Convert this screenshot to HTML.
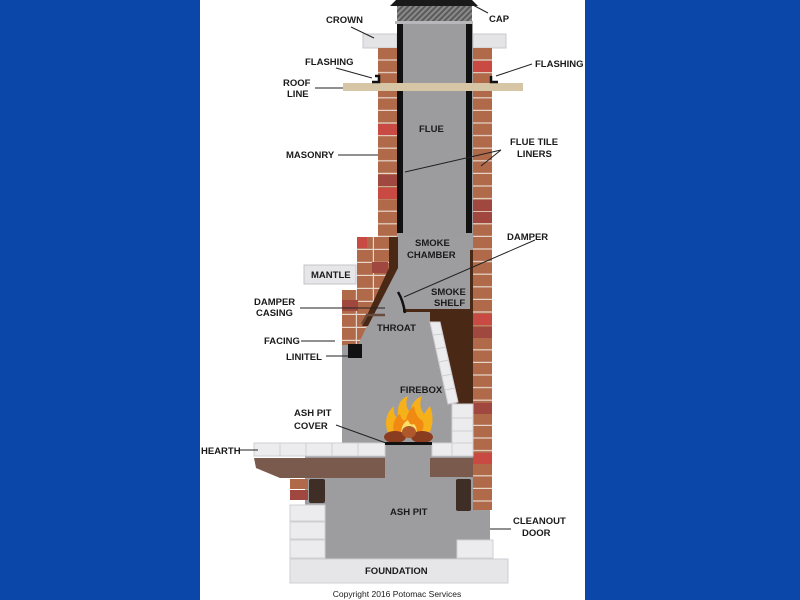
<!DOCTYPE html>
<html><head><meta charset="utf-8"><style>
html,body{margin:0;padding:0;width:800px;height:600px;overflow:hidden;background:#0a47a9}
svg{display:block}
text{font-family:"Liberation Sans",Arial,sans-serif;font-weight:bold;font-size:9.5px;fill:#1a1a1a}
</style></head><body>
<svg width="800" height="600" viewBox="0 0 800 600">
<defs>
<pattern id="brk" x="0" y="48" width="40" height="12.6" patternUnits="userSpaceOnUse">
<rect width="40" height="12.6" fill="#b06a4a"/>
<rect y="11.4" width="40" height="1.2" fill="#e6d6cc"/>
</pattern>
<pattern id="brk2" x="0" y="237" width="17" height="13" patternUnits="userSpaceOnUse">
<rect width="17" height="13" fill="#b06a4a"/>
<rect y="11.8" width="17" height="1.2" fill="#e6d6cc"/>
<rect x="15.8" width="1.2" height="13" fill="#e6d6cc"/>
</pattern>
<pattern id="hatch" width="4" height="4" patternUnits="userSpaceOnUse" patternTransform="rotate(45)">
<rect width="4" height="4" fill="#8a8a8a"/><rect width="2" height="4" fill="#5a5a5a"/>
</pattern>
</defs>
<rect x="200" y="0" width="385" height="600" fill="#fff"/>

<rect x="363" y="34" width="34" height="14" fill="#e4e4e6" stroke="#c8c8cc"/>
<rect x="473" y="34" width="33" height="14" fill="#e4e4e6" stroke="#c8c8cc"/>
<rect x="378" y="48" width="19" height="190" fill="url(#brk)"/>
<rect x="473" y="48" width="19" height="425" fill="url(#brk)"/>
<rect x="378" y="124" width="19" height="11" fill="#c84a42"/>
<rect x="378" y="175" width="19" height="11" fill="#a04840"/>
<rect x="378" y="188" width="19" height="11" fill="#c84a42"/>
<rect x="473" y="61" width="19" height="11" fill="#c84a42"/>
<rect x="473" y="200" width="19" height="11" fill="#a04840"/>
<rect x="473" y="212" width="19" height="11" fill="#a04840"/>
<rect x="473" y="314" width="19" height="11" fill="#c84a42"/>
<rect x="473" y="327" width="19" height="11" fill="#a04840"/>
<rect x="473" y="403" width="19" height="11" fill="#a04840"/>
<rect x="397" y="22" width="76" height="215" fill="#9c9c9f"/>
<rect x="397" y="23" width="6" height="210" fill="#111"/>
<rect x="466" y="23" width="6" height="210" fill="#111"/>
<rect x="397" y="5" width="75" height="17" fill="url(#hatch)"/>
<rect x="395" y="21" width="78" height="3" fill="#b8b8bb"/>
<polygon points="390,6 396,0 472,0 478,6" fill="#1a1a1a"/>
<rect x="343" y="83" width="180" height="8" fill="#d6c6a6"/>
<path d="M372,82 h7 v-6 h-4" fill="none" stroke="#111" stroke-width="2.5"/>
<path d="M498,82 h-7 v-6" fill="none" stroke="#111" stroke-width="2.5"/>

<rect x="305" y="447" width="185" height="112" fill="#9d9d9f"/>

<polygon points="357,237 473,237 473,447 342,447 342,300 357,290" fill="#9d9d9f"/>
<polygon points="357,237 395,237 395,268 366,328 358,345 342,345 342,290 357,290" fill="url(#brk2)"/>
<rect x="357" y="237" width="10" height="11" fill="#c84a42"/>
<rect x="372" y="262" width="16" height="11" fill="#a04840"/>
<rect x="342" y="300" width="16" height="11" fill="#a04840"/>
<rect x="304" y="265" width="52" height="19" fill="#e6e6e8" stroke="#c4c4c8"/>
<polygon points="389,237 398,237 398,268 368,326 362,326 389,268" fill="#4a2816"/>
<path d="M362,324 l5,-9 h18" fill="none" stroke="#6a4a3a" stroke-width="2.5"/>
<rect x="348" y="344" width="14" height="14" fill="#111"/>
<polygon points="470,250 473,250 473,445 460,445 457,405 442,330 430,322 430,312 403,312 403,309 470,309" fill="#4a2816"/>
<rect x="403" y="250" width="67" height="59" fill="#9d9d9f"/>
<path d="M398,292 q5,8 7,21" fill="none" stroke="#111" stroke-width="2.5"/>
<polygon points="430,322 440,322 458,402 448,404" fill="#ececee" stroke="#cfcfd3"/>
<g stroke="#cfcfd3" stroke-width="1"><line x1="433" y1="335" x2="443" y2="334"/><line x1="436" y1="349" x2="446" y2="347"/><line x1="439" y1="362" x2="449" y2="360"/><line x1="442" y1="376" x2="452" y2="374"/><line x1="445" y1="390" x2="455" y2="388"/></g>
<rect x="452" y="404" width="21" height="40" fill="#ececee" stroke="#cfcfd3"/>
<line x1="452" y1="418" x2="473" y2="418" stroke="#cfcfd3"/><line x1="452" y1="431" x2="473" y2="431" stroke="#cfcfd3"/>

<!-- right bricks continuing beside ash pit -->
<rect x="473" y="445" width="19" height="65" fill="url(#brk)"/>
<rect x="473" y="453" width="19" height="11" fill="#c84a42"/>

<rect x="254" y="443" width="131" height="13" fill="#ececee" stroke="#cfcfd3"/>
<g stroke="#cfcfd3"><line x1="280" y1="443" x2="280" y2="456"/><line x1="306" y1="443" x2="306" y2="456"/><line x1="332" y1="443" x2="332" y2="456"/><line x1="358" y1="443" x2="358" y2="456"/></g>
<rect x="432" y="443" width="41" height="13" fill="#ececee" stroke="#cfcfd3"/>
<line x1="452" y1="443" x2="452" y2="456" stroke="#cfcfd3"/>
<polygon points="254,458 385,458 385,478 280,478 256,468" fill="#7a5a4c"/>
<rect x="430" y="458" width="43" height="19" fill="#7a5a4c"/>
<rect x="290" y="479" width="18" height="10" fill="#b06a4a"/>
<rect x="290" y="490" width="18" height="10" fill="#a04840"/>
<rect x="309" y="479" width="16" height="24" rx="2" fill="#3e2e26"/>
<rect x="456" y="479" width="15" height="32" rx="2" fill="#3e2e26"/>
<rect x="290" y="505" width="35" height="16" fill="#ececee" stroke="#cfcfd3"/>
<rect x="290" y="522" width="35" height="17" fill="#ececee" stroke="#cfcfd3"/>
<rect x="290" y="540" width="35" height="18" fill="#ececee" stroke="#cfcfd3"/>
<rect x="457" y="540" width="36" height="18" fill="#ececee" stroke="#cfcfd3"/>
<rect x="290" y="559" width="218" height="24" fill="#e6e6e8" stroke="#cfcfd3"/>

<path d="M388,434 q-6,-18 6,-28 q-1,10 4,12 q-2,-18 10,-22 q-4,10 2,16 q2,-12 12,-16 q-4,10 2,18 q4,-6 6,-8 q6,16 -2,30 z" fill="#f6b01a"/>
<path d="M394,434 q-3,-14 6,-20 q2,8 6,6 q2,-10 8,-14 q2,12 8,14 q4,6 -2,14 z" fill="#f08a12"/>
<path d="M401,434 q0,-10 7,-14 q2,6 6,4 q4,4 2,10 z" fill="#fde06a"/>
<ellipse cx="395" cy="437" rx="11" ry="6" fill="#8a3c20"/>
<ellipse cx="422" cy="437" rx="11" ry="6" fill="#8a3c20"/>
<ellipse cx="409" cy="432" rx="7" ry="6" fill="#b0582c"/>
<rect x="385" y="442" width="47" height="3" fill="#111"/>

<g stroke="#222" stroke-width="1" fill="none">
<line x1="351" y1="27" x2="374" y2="38"/>
<line x1="471" y1="4" x2="488" y2="13"/>
<line x1="336" y1="68" x2="372" y2="78"/>
<line x1="532" y1="64" x2="496" y2="76"/>
<line x1="315" y1="88" x2="343" y2="88"/>
<line x1="338" y1="155" x2="378" y2="155"/>
<line x1="405" y1="172" x2="501" y2="150"/>
<line x1="481" y1="166" x2="501" y2="150"/>
<line x1="535" y1="240" x2="404" y2="297"/>
<line x1="300" y1="308" x2="385" y2="308"/>
<line x1="301" y1="341" x2="335" y2="341"/>
<line x1="326" y1="356" x2="348" y2="356"/>
<line x1="336" y1="425" x2="386" y2="443"/>
<line x1="240" y1="450" x2="258" y2="450"/>
<line x1="490" y1="529" x2="511" y2="529"/>
</g>

<text x="326" y="23">CROWN</text>
<text x="489" y="22">CAP</text>
<text x="305" y="65">FLASHING</text>
<text x="535" y="67">FLASHING</text>
<text x="283" y="86">ROOF</text>
<text x="287" y="97">LINE</text>
<text x="286" y="158">MASONRY</text>
<text x="419" y="132">FLUE</text>
<text x="510" y="145">FLUE TILE</text>
<text x="517" y="157">LINERS</text>
<text x="415" y="246">SMOKE</text>
<text x="407" y="258">CHAMBER</text>
<text x="507" y="240">DAMPER</text>
<text x="311" y="278">MANTLE</text>
<text x="431" y="295">SMOKE</text>
<text x="434" y="306">SHELF</text>
<text x="254" y="305">DAMPER</text>
<text x="256" y="316">CASING</text>
<text x="377" y="331">THROAT</text>
<text x="264" y="344">FACING</text>
<text x="286" y="360">LINITEL</text>
<text x="400" y="393">FIREBOX</text>
<text x="294" y="416">ASH PIT</text>
<text x="294" y="429">COVER</text>
<text x="201" y="454">HEARTH</text>
<text x="390" y="515">ASH PIT</text>
<text x="513" y="524">CLEANOUT</text>
<text x="522" y="536">DOOR</text>
<text x="365" y="574">FOUNDATION</text>
<text x="397" y="597" text-anchor="middle" style="font-weight:normal;font-size:8.5px">Copyright 2016 Potomac Services</text>
</svg>
</body></html>
